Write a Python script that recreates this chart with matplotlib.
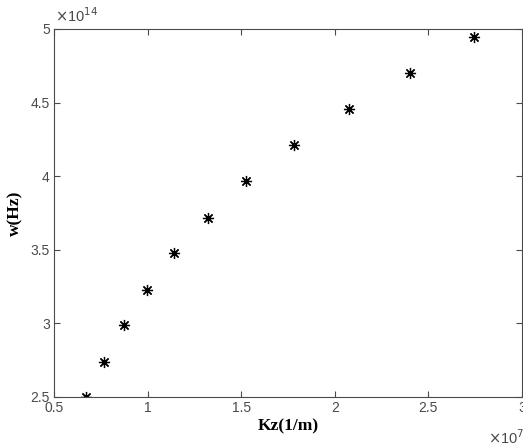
import matplotlib
matplotlib.use("Agg")
import matplotlib.pyplot as plt
from matplotlib.ticker import FuncFormatter

# dispersion points
kz = [0.669e7, 0.767e7, 0.876e7, 0.999e7, 1.140e7, 1.321e7,
      1.528e7, 1.781e7, 2.075e7, 2.401e7, 2.742e7]
w = [2.500e14, 2.738e14, 2.986e14, 3.229e14, 3.477e14, 3.719e14,
     3.968e14, 4.210e14, 4.459e14, 4.699e14, 4.948e14]

x_ticks = [0.5, 1, 1.5, 2, 2.5, 3]
y_ticks = [2.5, 3, 3.5, 4, 4.5, 5]

tick_color = "#4a4a4a"
fig = plt.figure(figsize=(5.23, 4.48), dpi=100)
ax = fig.add_axes([54 / 523, 51 / 448, 468 / 523, 368 / 448])

ax.plot(kz, w, linestyle="none", marker=(8, 2, 0), markersize=8,
        markeredgewidth=0.9, color="black")

ax.set_xlim(0.5e7, 3e7)
ax.set_ylim(2.5e14, 5e14)
ax.set_xticks([v * 1e7 for v in x_ticks])
ax.set_yticks([v * 1e14 for v in y_ticks])
ax.xaxis.set_major_formatter(FuncFormatter(lambda v, p: f"{v / 1e7:g}"))
ax.yaxis.set_major_formatter(FuncFormatter(lambda v, p: f"{v / 1e14:g}"))

ax.tick_params(direction="in", length=4, width=0.8, top=True, right=True,
               colors=tick_color, labelsize=10, pad=3)
for lab in ax.get_xticklabels() + ax.get_yticklabels():
    lab.set_fontfamily("Liberation Sans")
for s in ax.spines.values():
    s.set_color(tick_color)
    s.set_linewidth(0.8)

ax.set_xlabel("Kz(1/m)", fontfamily="Liberation Serif", fontweight="bold",
              fontsize=12.5, labelpad=2)
ax.set_ylabel("w(Hz)", fontfamily="Liberation Serif", fontweight="bold",
              fontsize=12.5, labelpad=5)

# MATLAB-style exponent labels
fig.text(55 / 523, 1 - 22 / 448, r"$\times$10$^{14}$", fontfamily="Liberation Sans",
         fontsize=10.5, color=tick_color, va="baseline")
fig.text(488 / 523, 1 - 444 / 448, r"$\times$10$^{7}$", fontfamily="Liberation Sans",
         fontsize=10.5, color=tick_color, va="baseline")

fig.savefig("out.png", dpi=100)
